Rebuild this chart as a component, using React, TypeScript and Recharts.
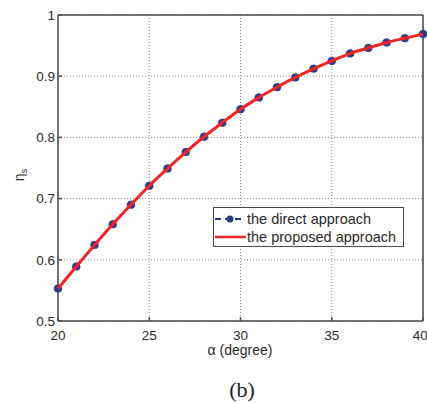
import { LineChart, Line, XAxis, YAxis, CartesianGrid, ReferenceLine } from 'recharts'

const alphaDeg = [20, 21, 22, 23, 24, 25, 26, 27, 28, 29, 30, 31, 32, 33, 34, 35, 36, 37, 38, 39, 40]
const directValues = [
  0.553, 0.589, 0.624, 0.658, 0.69, 0.721, 0.749, 0.776, 0.801, 0.824, 0.846,
  0.865, 0.882, 0.898, 0.912, 0.925, 0.937, 0.946, 0.955, 0.962, 0.969,
]
const proposedValues = [
  0.553, 0.589, 0.624, 0.658, 0.69, 0.721, 0.749, 0.776, 0.801, 0.824, 0.846,
  0.865, 0.882, 0.898, 0.912, 0.925, 0.937, 0.946, 0.955, 0.962, 0.969,
]
const xTicks = [20, 25, 30, 35, 40]
const yTicks = [0.5, 0.6, 0.7, 0.8, 0.9, 1]

const seriesNames = ['the direct approach', 'the proposed approach']

const data = alphaDeg.map((a, i) => ({
  alpha: a,
  direct: directValues[i],
  proposed: proposedValues[i],
}))

const BLUE = '#2b3a8f'
const RED = '#f42424'
const AXIS = '#4a4a4a'
const FONT = '"Liberation Sans", Arial, Helvetica, sans-serif'

// legend drawn as an overlay so it doesn't eat into the plot area
const LegendBox = () => (
  <div
    style={{
      position: 'absolute',
      left: 213,
      top: 207,
      width: 189,
      height: 38,
      border: `1px solid ${AXIS}`,
      background: '#fff',
      fontFamily: FONT,
      fontSize: 14.5,
      color: '#2a2a2a',
    }}
  >
    <div style={{ display: 'flex', alignItems: 'center', height: 18, marginTop: 2 }}>
      <svg width={33} height={18}>
        <line x1={1} y1={9} x2={31} y2={9} stroke={BLUE} strokeWidth={1.8} strokeDasharray="6 4" />
        <circle cx={16} cy={9} r={3.5} fill={BLUE} />
      </svg>
      <span>{seriesNames[0]}</span>
    </div>
    <div style={{ display: 'flex', alignItems: 'center', height: 18 }}>
      <svg width={33} height={18}>
        <line x1={1} y1={9} x2={32} y2={9} stroke={RED} strokeWidth={2.5} />
      </svg>
      <span>{seriesNames[1]}</span>
    </div>
  </div>
)

export default function App() {
  return (
    <div style={{ position: 'absolute', left: 0, top: 0, width: 427, height: 403, background: '#fff' }}>
      <LineChart
        width={427}
        height={403}
        data={data}
        margin={{ top: 15, right: 4, left: 0, bottom: 52 }}
      >
        <CartesianGrid stroke="#8a8a8a" strokeDasharray="1 2" />
        <XAxis
          dataKey="alpha"
          type="number"
          domain={[20, 40]}
          ticks={xTicks}
          height={30}
          stroke={AXIS}
          strokeWidth={1.5}
          tickSize={-4}
          tickMargin={13}
          tick={{ fill: '#2a2a2a', fontSize: 13.5, fontFamily: FONT }}
          label={{
            content: () => (
              <text x={240} y={355} textAnchor="middle" fill="#2a2a2a" fontSize={14} fontFamily={FONT}>
                α (degree)
              </text>
            ),
          }}
        />
        <YAxis
          type="number"
          domain={[0.5, 1]}
          ticks={yTicks}
          width={58}
          stroke={AXIS}
          strokeWidth={1.5}
          tickSize={-4}
          tickMargin={7}
          tickFormatter={(v: number) => String(v)}
          tick={{ fill: '#2a2a2a', fontSize: 13.5, fontFamily: FONT }}
          label={{
            content: () => (
              <text
                x={24}
                y={175}
                transform="rotate(-90 24 175)"
                textAnchor="middle"
                fill="#2a2a2a"
                fontSize={14}
                fontFamily={FONT}
              >
                η<tspan fontSize={9} dy={3}>s</tspan>
              </text>
            ),
          }}
        />
        <ReferenceLine y={1} stroke={AXIS} strokeWidth={1.5} ifOverflow="visible" />
        <ReferenceLine x={40} stroke={AXIS} strokeWidth={1.5} ifOverflow="visible" />
        <Line
          dataKey="direct"
          name={seriesNames[0]}
          type="linear"
          stroke={BLUE}
          strokeWidth={1.5}
          strokeDasharray="5 4"
          dot={{ r: 4, fill: BLUE, stroke: BLUE, strokeWidth: 0.5 }}
          isAnimationActive={false}
        />
        <Line
          dataKey="proposed"
          name={seriesNames[1]}
          type="monotone"
          stroke={RED}
          strokeWidth={3}
          dot={false}
          zIndex={1000}
          isAnimationActive={false}
        />
      </LineChart>
      <LegendBox />
      <div
        style={{
          position: 'absolute',
          left: 0,
          width: 484,
          top: 376,
          textAlign: 'center',
          fontFamily: '"Liberation Serif", "Times New Roman", serif',
          fontSize: 22,
          color: '#222',
          lineHeight: '28px',
        }}
      >
        (b)
      </div>
    </div>
  )
}
